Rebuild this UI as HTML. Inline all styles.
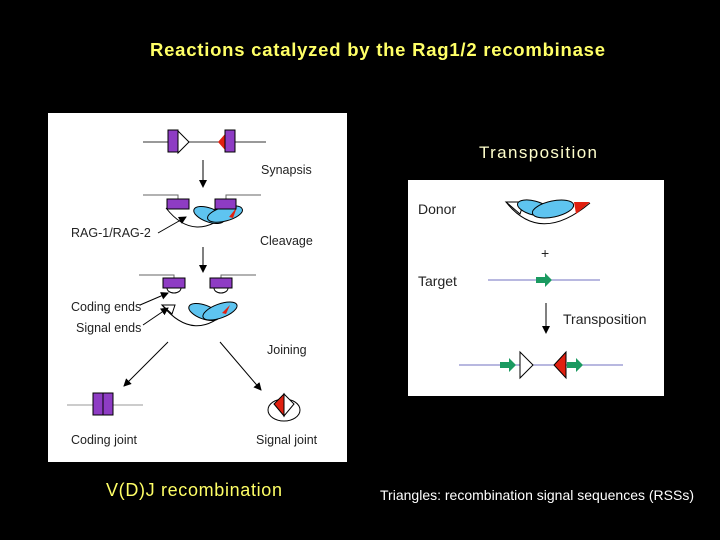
<!DOCTYPE html>
<html><head><meta charset="utf-8"><style>
html,body{margin:0;padding:0;background:#000;width:720px;height:540px;overflow:hidden}
svg{display:block}
text{font-family:"Liberation Sans",sans-serif}
</style></head><body>
<svg width="720" height="540" viewBox="0 0 720 540" xmlns="http://www.w3.org/2000/svg">
<defs>
<marker id="ah" markerWidth="8" markerHeight="8" refX="7" refY="4" orient="auto" markerUnits="userSpaceOnUse"><path d="M0,0 L8,4 L0,8 z" fill="#000"/></marker>
</defs>
<text x="150" y="56" font-size="18.5" font-weight="bold" fill="#ffff66" textLength="455">Reactions catalyzed by the Rag1/2 recombinase</text>
<!-- panel 1 -->
<rect x="48" y="113" width="299" height="349" fill="#fff"/>
<g stroke="#000" stroke-width="1">
<line x1="143" y1="142" x2="266" y2="142" stroke="#333"/>
<rect x="168" y="130" width="10" height="22" fill="#8e3cc4"/>
<path d="M178,131 L189,142 L178,153 z" fill="#fff"/>
<path d="M225,134 L218,142 L225,150 z" fill="#e02010" stroke="none"/>
<rect x="225" y="130" width="10" height="22" fill="#8e3cc4"/>
<line x1="203" y1="160" x2="203" y2="187" marker-end="url(#ah)"/>
<path d="M143,195 H178 V199" fill="none" stroke="#666"/>
<path d="M261,195 H226 V199" fill="none" stroke="#666"/>
<path d="M166,208 Q195,245 232,210" fill="none"/>
<ellipse cx="209" cy="215" rx="16" ry="7" fill="#5ec4f0" transform="rotate(20 209 215)"/>
<ellipse cx="225" cy="214" rx="18" ry="7" fill="#5ec4f0" transform="rotate(-15 225 214)"/>
<path d="M237,207 L229,217 L233,218 z" fill="#e02010" stroke="none"/>
<rect x="167" y="199" width="22" height="10" fill="#8e3cc4"/>
<rect x="215" y="199" width="21" height="10" fill="#8e3cc4"/>
<line x1="158" y1="233" x2="186" y2="217" marker-end="url(#ah)"/>
<line x1="203" y1="247" x2="203" y2="272" marker-end="url(#ah)"/>
<path d="M139,275 H174 V278" fill="none" stroke="#666"/>
<path d="M256,275 H221 V278" fill="none" stroke="#666"/>
<path d="M167,288 A7,5 0 0 0 181,288" fill="#fff"/>
<path d="M214,288 A7,5 0 0 0 228,288" fill="#fff"/>
<rect x="163" y="278" width="22" height="10" fill="#8e3cc4"/>
<rect x="210" y="278" width="22" height="10" fill="#8e3cc4"/>
<path d="M162,305 Q195,345 230,308" fill="none"/>
<path d="M162,305 L175,305 L172,314 z" fill="#fff"/>
<ellipse cx="204" cy="312" rx="16" ry="7" fill="#5ec4f0" transform="rotate(20 204 312)"/>
<ellipse cx="220" cy="311" rx="18" ry="7" fill="#5ec4f0" transform="rotate(-20 220 311)"/>
<path d="M230,305 L222,313 L226,314 z" fill="#e02010" stroke="none"/>
<line x1="140" y1="305" x2="168" y2="293" marker-end="url(#ah)"/>
<line x1="143" y1="325" x2="168" y2="308" marker-end="url(#ah)"/>
<line x1="168" y1="342" x2="124" y2="386" marker-end="url(#ah)"/>
<line x1="220" y1="342" x2="261" y2="390" marker-end="url(#ah)"/>
<line x1="67" y1="405" x2="143" y2="405" stroke="#999"/>
<rect x="93" y="393" width="10" height="22" fill="#8e3cc4"/>
<rect x="103" y="393" width="10" height="22" fill="#8e3cc4"/>
<ellipse cx="284" cy="410" rx="16" ry="11" fill="#fff"/>
<path d="M284,394 L294,404 L284,416 z" fill="#fff"/>
<path d="M284,394 L274,404 L284,416 z" fill="#e02010"/>
</g>
<g font-size="12.5" fill="#222">
<text x="261" y="174">Synapsis</text>
<text x="71" y="237">RAG-1/RAG-2</text>
<text x="260" y="245">Cleavage</text>
<text x="71" y="311">Coding ends</text>
<text x="76" y="332">Signal ends</text>
<text x="267" y="354">Joining</text>
<text x="71" y="444">Coding joint</text>
<text x="256" y="444">Signal joint</text>
</g>
<!-- panel 2 -->
<text x="479" y="158" font-size="17" fill="#ffffcc" textLength="118">Transposition</text>
<rect x="408" y="180" width="256" height="216" fill="#fff"/>
<g stroke="#000" stroke-width="1">
<path d="M506,202 Q540,245 590,203" fill="none"/>
<path d="M506,202 L524,202 L520,214 z" fill="#fff"/>
<ellipse cx="534" cy="208" rx="17" ry="7" fill="#5ec4f0" transform="rotate(15 534 208)"/>
<ellipse cx="553" cy="209" rx="21" ry="8" fill="#5ec4f0" transform="rotate(-12 553 209)"/>
<path d="M590,202 L574,202 L576,214 z" fill="#e02010" stroke="none"/>
<line x1="546" y1="303" x2="546" y2="333" marker-end="url(#ah)"/>
</g>
<line x1="488" y1="280" x2="600" y2="280" stroke="#7070c0"/>
<path d="M536,277 H545 V273 L552,280 L545,287 V283 H536 z" fill="#1a9a60"/>
<line x1="459" y1="365" x2="623" y2="365" stroke="#7070c0"/>
<path d="M500,362 H509 V358 L516,365 L509,372 V368 H500 z" fill="#1a9a60"/>
<path d="M567,362 H576 V358 L583,365 L576,372 V368 H567 z" fill="#1a9a60"/>
<path d="M520,352 L533,365 L520,378 z" fill="#fff" stroke="#000"/>
<path d="M566,352 L554,365 L566,378 z" fill="#e02010" stroke="#000"/>
<g font-size="14" fill="#222">
<text x="418" y="214">Donor</text>
<text x="418" y="286">Target</text>
<text x="563" y="324">Transposition</text>
<text x="541" y="258">+</text>
</g>
<text x="106" y="496" font-size="18" fill="#ffff66" textLength="176">V(D)J recombination</text>
<text x="380" y="500" font-size="14" fill="#fff" textLength="314">Triangles: recombination signal sequences (RSSs)</text>
</svg>
</body></html>
